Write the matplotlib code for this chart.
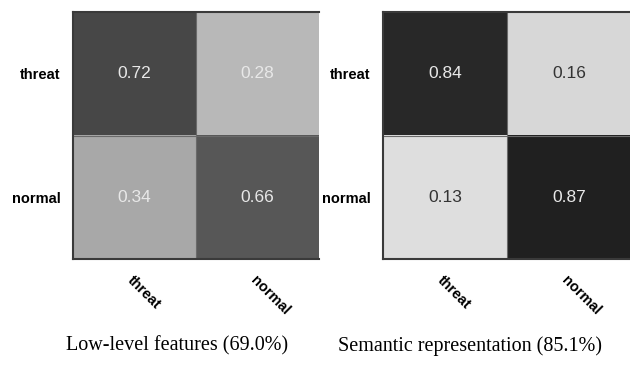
import matplotlib
matplotlib.use('Agg')
import matplotlib.pyplot as plt
import numpy as np

labels = ['threat', 'normal']
low_level = [[0.72, 0.28],
             [0.34, 0.66]]
semantic = [[0.84, 0.16],
            [0.13, 0.87]]
captions = ['Low-level features (69.0%)', 'Semantic representation (85.1%)']
caption_x = [177, 470]

plt.rcParams['font.family'] = ['Liberation Sans', 'DejaVu Sans']

fig = plt.figure(figsize=(6.3, 3.66), dpi=100)
W, H = 630.0, 366.0
boxes = [[73 / W, 107 / H, 246 / W, 247 / H],
         [383 / W, 107 / H, 248 / W, 247 / H]]

for box, cm, cap, cx in zip(boxes, [low_level, semantic], captions, caption_x):
    ax = fig.add_axes(box)
    cm = np.array(cm)
    ax.imshow(cm, cmap='gray_r', vmin=0, vmax=1, aspect='auto', interpolation='nearest')
    ax.axhline(0.5, color='#6a6a6a', lw=0.8)
    ax.axvline(0.5, color='#6a6a6a', lw=0.8)
    for i in range(2):
        for j in range(2):
            v = cm[i, j]
            c = '#e8e8e8' if v > 0.2 else '#333333'
            ax.text(j, i, '%.2f' % v, ha='center', va='center', fontsize=12.5, color=c)
    ax.set_xticks(range(2))
    ax.set_yticks(range(2))
    ax.set_yticklabels(labels, fontsize=10.5, fontweight='bold')
    ax.set_xticklabels(labels, fontsize=10.5, fontweight='bold', rotation=-45,
                       ha='left', va='top', rotation_mode='anchor')
    ax.tick_params(axis='y', length=0, pad=9)
    ax.tick_params(axis='x', length=0, pad=10)
    for s in ['left', 'top', 'bottom']:
        ax.spines[s].set_color('#3a3a3a')
        ax.spines[s].set_linewidth(1.5)
    ax.spines['right'].set_visible(False)
    fig.text(cx / W, 1 - 346 / H, cap, ha='center', va='center',
             fontsize=14.5, family='Liberation Serif')

fig.savefig('out.png', dpi=100)
